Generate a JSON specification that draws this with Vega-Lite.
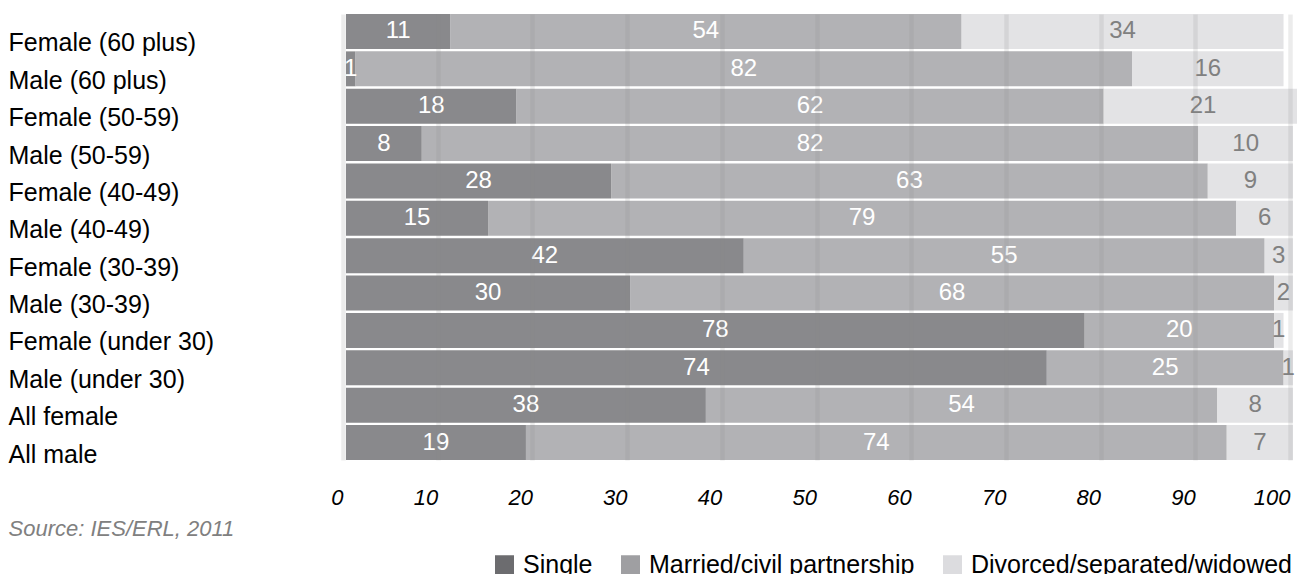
{
  "$schema": "https://vega.github.io/schema/vega-lite/v6.json",
  "width": 947,
  "height": 446,
  "autosize": {"type": "none"},
  "padding": {"left": 346, "top": 14, "right": 4, "bottom": 114},
  "background": "white",
  "config": {"view": {"stroke": null}, "font": "Liberation Sans"},
  "data": {
    "values": [
      {"group": "Female (60 plus)", "status": "Single", "value": 11},
      {"group": "Female (60 plus)", "status": "Married/civil partnership", "value": 54},
      {"group": "Female (60 plus)", "status": "Divorced/separated/widowed", "value": 34},
      {"group": "Male (60 plus)", "status": "Single", "value": 1},
      {"group": "Male (60 plus)", "status": "Married/civil partnership", "value": 82},
      {"group": "Male (60 plus)", "status": "Divorced/separated/widowed", "value": 16},
      {"group": "Female (50-59)", "status": "Single", "value": 18},
      {"group": "Female (50-59)", "status": "Married/civil partnership", "value": 62},
      {"group": "Female (50-59)", "status": "Divorced/separated/widowed", "value": 21},
      {"group": "Male (50-59)", "status": "Single", "value": 8},
      {"group": "Male (50-59)", "status": "Married/civil partnership", "value": 82},
      {"group": "Male (50-59)", "status": "Divorced/separated/widowed", "value": 10},
      {"group": "Female (40-49)", "status": "Single", "value": 28},
      {"group": "Female (40-49)", "status": "Married/civil partnership", "value": 63},
      {"group": "Female (40-49)", "status": "Divorced/separated/widowed", "value": 9},
      {"group": "Male (40-49)", "status": "Single", "value": 15},
      {"group": "Male (40-49)", "status": "Married/civil partnership", "value": 79},
      {"group": "Male (40-49)", "status": "Divorced/separated/widowed", "value": 6},
      {"group": "Female (30-39)", "status": "Single", "value": 42},
      {"group": "Female (30-39)", "status": "Married/civil partnership", "value": 55},
      {"group": "Female (30-39)", "status": "Divorced/separated/widowed", "value": 3},
      {"group": "Male (30-39)", "status": "Single", "value": 30},
      {"group": "Male (30-39)", "status": "Married/civil partnership", "value": 68},
      {"group": "Male (30-39)", "status": "Divorced/separated/widowed", "value": 2},
      {"group": "Female (under 30)", "status": "Single", "value": 78},
      {"group": "Female (under 30)", "status": "Married/civil partnership", "value": 20},
      {"group": "Female (under 30)", "status": "Divorced/separated/widowed", "value": 1},
      {"group": "Male (under 30)", "status": "Single", "value": 74},
      {"group": "Male (under 30)", "status": "Married/civil partnership", "value": 25},
      {"group": "Male (under 30)", "status": "Divorced/separated/widowed", "value": 1},
      {"group": "All female", "status": "Single", "value": 38},
      {"group": "All female", "status": "Married/civil partnership", "value": 54},
      {"group": "All female", "status": "Divorced/separated/widowed", "value": 8},
      {"group": "All male", "status": "Single", "value": 19},
      {"group": "All male", "status": "Married/civil partnership", "value": 74},
      {"group": "All male", "status": "Divorced/separated/widowed", "value": 7}
    ]
  },
  "transform": [
    {"stack": "value", "groupby": ["group"], "sort": [{"field": "status", "order": "descending"}], "as": ["v0", "v1"]},
    {"calculate": "(datum.v0 + datum.v1) / 2", "as": "mid"}
  ],
  "encoding": {
    "y": {
      "field": "group",
      "type": "nominal",
      "sort": null,
      "scale": {"paddingInner": 0.065, "paddingOuter": 0},
      "axis": {
        "title": null,
        "domain": false,
        "ticks": false,
        "tickSize": 0,
        "labelAlign": "left",
        "labelBaseline": "middle",
        "labelPadding": 338,
        "labelFontSize": 25,
        "labelColor": "black",
        "labelOffset": 12,
        "labelLimit": 0
      }
    }
  },
  "layer": [
    {
      "mark": {"type": "bar", "opacity": 0.8},
      "encoding": {
        "x": {
          "field": "v0",
          "type": "quantitative",
          "scale": {"domain": [0, 100], "nice": false, "zero": true},
          "axis": {
            "values": [0, 10, 20, 30, 40, 50, 60, 70, 80, 90, 100],
            "grid": true,
            "gridColor": "#888888",
            "gridOpacity": 0.16,
            "gridWidth": 4.5,
            "domain": false,
            "ticks": false,
            "tickOffset": -3,
            "labelFontSize": 22,
            "labelFontStyle": "italic",
            "labelColor": "black",
            "labelAlign": "right",
            "labelDx": 4,
            "labelBaseline": "middle",
            "labelPadding": 37,
            "zindex": 1,
            "title": "Source: IES/ERL, 2011",
            "titleX": -338,
            "titleY": 75,
            "titleAlign": "left",
            "titleBaseline": "alphabetic",
            "titleFontSize": 22,
            "titleFontStyle": "italic",
            "titleFontWeight": "normal",
            "titleColor": "#808080"
          }
        },
        "x2": {"field": "v1"},
        "color": {
          "field": "status",
          "type": "nominal",
          "scale": {
            "domain": ["Single", "Married/civil partnership", "Divorced/separated/widowed"],
            "range": ["#6c6c6f", "#9f9fa2", "#dcdcdf"]
          },
          "legend": {
            "title": null,
            "orient": "none",
            "legendX": 146,
            "legendY": 538,
            "direction": "horizontal",
            "columns": 3,
            "symbolType": "square",
            "symbolSize": 361,
            "symbolOpacity": 1,
            "symbolStrokeWidth": 0,
            "labelFontSize": 25,
            "labelColor": "black",
            "labelOffset": 6,
            "labelLimit": 0,
            "columnPadding": 25,
            "padding": 0
          }
        }
      }
    },
    {
      "mark": {"type": "text", "fontSize": 24, "baseline": "middle", "align": "center"},
      "encoding": {
        "x": {"field": "mid", "type": "quantitative", "title": "Source: IES/ERL, 2011"},
        "text": {"field": "value"},
        "color": {
          "condition": {"test": "datum.status === 'Divorced/separated/widowed'", "value": "#808080"},
          "value": "white"
        }
      }
    }
  ]
}
